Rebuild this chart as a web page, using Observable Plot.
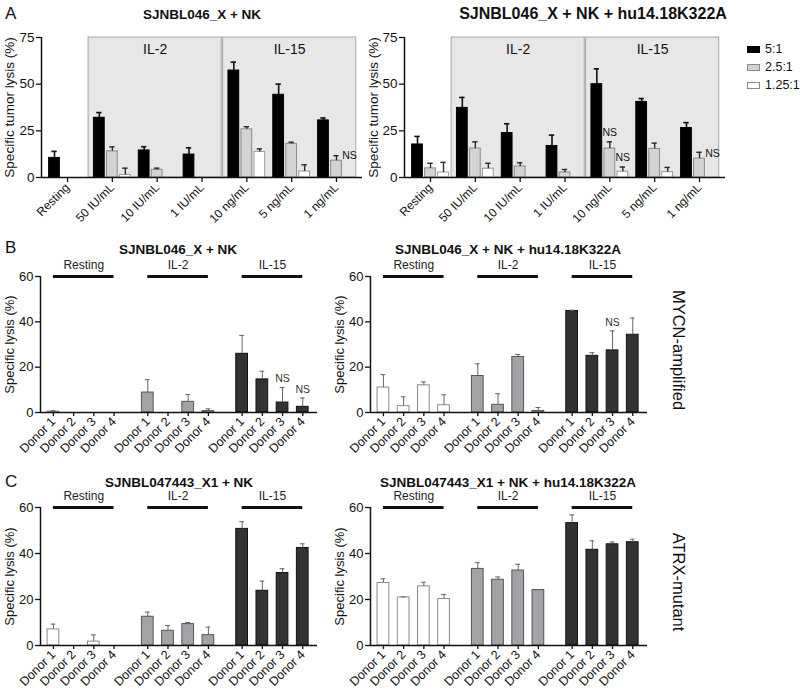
<!DOCTYPE html>
<html><head><meta charset="utf-8">
<script src="https://cdn.jsdelivr.net/npm/d3@7"></script>
<script src="https://cdn.jsdelivr.net/npm/@observablehq/plot@0.6"></script>
<style>
body{margin:0;background:#fff;font-family:"Liberation Sans",Arial,sans-serif;color:#111;}
#root{position:relative;width:800px;height:698px;overflow:hidden;background:#fff;}
.lbl{position:absolute;white-space:nowrap;transform:translate(-50%,-50%);}
.title{font-weight:bold;font-size:13.5px;}
.letter{font-size:17px;transform:translate(0,-50%);}
.side{font-size:16.5px;transform:translate(-50%,-50%) rotate(90deg);}
.leg{position:absolute;font-size:12.5px;display:flex;align-items:center;white-space:nowrap;transform:translate(0,-50%);}
.sw{display:inline-block;width:13px;height:7px;margin-right:5px;box-sizing:border-box;}
</style></head><body><div id="root"></div>
<script>
// ---------- Panel A data ----------
const doseLabels = ["Resting","50 IU/mL","10 IU/mL","1 IU/mL","10 ng/mL","5 ng/mL","1 ng/mL"];
const doseCytokine = [null,"IL-2","IL-2","IL-2","IL-15","IL-15","IL-15"];
const cytokineBoxes = ["IL-2","IL-15"];
const ratios = ["5:1","2.5:1","1.25:1"];
const doseYTicks = [0,25,50,75];

const nkRatio5      = [10.5, 32, 14.5, 12.3, 57.3, 44.3, 30.6];
const nkRatio5Err   = [3.5, 2.8, 2, 3.6, 4.5, 5.7, 1.3];
const nkRatio2_5    = [0, 14, 4.1, 0, 25.8, 18, 9];
const nkRatio2_5Err = [0, 2.4, 0.9, 0, 1.4, 0.9, 2.7];
const nkRatio1_25   = [0, 1.4, 0, 0, 13.7, 3.2, 0];
const nkRatio1_25Err= [0, 3.6, 0, 0, 1.6, 3.6, 0];
const nkNS = [{dose:"1 ng/mL", ratio:"1.25:1", level:11.8}];

const abRatio5      = [17.7, 37.3, 23.8, 16.9, 50, 40.5, 26.5];
const abRatio5Err   = [4.3, 5.6, 5, 5.8, 8.2, 1.8, 2.9];
const abRatio2_5    = [4.9, 15.5, 5.9, 2.7, 15.5, 15.3, 10.1];
const abRatio2_5Err = [2.7, 3.6, 2, 1.6, 3.6, 3.1, 3.4];
const abRatio1_25   = [2.7, 4.7, 0, 0, 3.1, 2.9, 0];
const abRatio1_25Err= [5.4, 2.9, 0, 0, 2.5, 2.5, 0];
const abNS = [{dose:"10 ng/mL", ratio:"2.5:1", level:24}, {dose:"10 ng/mL", ratio:"1.25:1", level:10.7}, {dose:"1 ng/mL", ratio:"1.25:1", level:12.9}];

// ---------- Panels B & C data ----------
const donors = ["Donor 1","Donor 2","Donor 3","Donor 4"];
const conditions = ["Resting","IL-2","IL-15"];
const donorYTicks = [0,20,40,60];

const mycnNkResting = [0.4, 0, 0, 0],        mycnNkRestingErr = [0.4, 0, 0, 0];
const mycnNkIL2     = [8.8, 0, 4.7, 0.6],    mycnNkIL2Err     = [5.7, 0, 3.2, 1.0];
const mycnNkIL15    = [25.9, 14.6, 4.4, 2.5],mycnNkIL15Err    = [8.1, 3.6, 6.6, 3.9];
const mycnNkNS = [{cond:"IL-15", donor:"Donor 3", level:15}, {cond:"IL-15", donor:"Donor 4", level:10.2}];

const mycnAbResting = [11, 2.8, 12, 3.2],    mycnAbRestingErr = [5.7, 4.1, 1.5, 4.6];
const mycnAbIL2     = [16.1, 3.4, 24.5, 0.7],mycnAbIL2Err     = [5.4, 4.9, 1.1, 1.5];
const mycnAbIL15    = [44.8, 25, 27.4, 34.3],mycnAbIL15Err    = [0.3, 1.4, 8.6, 7.4];
const mycnAbNS = [{cond:"IL-15", donor:"Donor 3", level:39.5}];

const atrxNkResting = [7, 0, 1.7, 0],        atrxNkRestingErr = [2.3, 0, 2.9, 0];
const atrxNkIL2     = [12.5, 6.4, 9.3, 4.5], atrxNkIL2Err     = [2, 2.3, 0.7, 3.5];
const atrxNkIL15    = [50.7, 23.8, 31.5, 42.4], atrxNkIL15Err = [3.1, 4.2, 1.9, 1.8];

const atrxAbResting = [27.2, 20.9, 25.7, 20.2], atrxAbRestingErr = [1.8, 0.2, 1.8, 2];
const atrxAbIL2     = [33.3, 28.6, 32.6, 24.1], atrxAbIL2Err     = [2.7, 1.2, 2.7, 0.2];
const atrxAbIL15    = [53.2, 41.6, 44, 44.9],   atrxAbIL15Err    = [3.6, 3.9, 1, 1.3];

const panelTitles = ["SJNBL046_X + NK","SJNBL046_X + NK + hu14.18K322A","SJNBL046_X + NK","SJNBL046_X + NK + hu14.18K322A","SJNBL047443_X1 + NK","SJNBL047443_X1 + NK + hu14.18K322A"];
const panelLetters = ["A","B","C"];
const sideLabels = ["MYCN-amplified","ATRX-mutant"];

// ---------- layout constants ----------
const FONT = "Liberation Sans, Arial, Helvetica, sans-serif";
const RATIO_OFFSET = 0.29, A_BAR_HALF = 0.12, A_CAP_HALF = 0.06;
const DOSE_DOMAIN = [-0.58, 6.58];
const GROUP_STEP = 4.67, D_BAR_HALF = 0.29, D_CAP_HALF = 0.12;
const DONOR_DOMAIN = [-0.64, 13.07];

const root = document.getElementById("root");
function place(node, left, top) {
  node.style.position = "absolute"; node.style.left = left + "px"; node.style.top = top + "px";
  root.appendChild(node);
}
function label(text, cls, x, y, size) {
  const d = document.createElement("div"); d.className = "lbl " + cls; d.textContent = text;
  d.style.left = x + "px"; d.style.top = y + "px";
  if (size) d.style.fontSize = size + "px";
  root.appendChild(d);
}

function dosePanel(vals, errs, nsList, geo) {
  const rows = [];
  ratios.forEach((r, k) => doseLabels.forEach((dose, i) =>
    rows.push({ratio: r, k, dose, i, pos: i + (k - 1) * RATIO_OFFSET, value: vals[k][i], err: errs[k][i]})));
  const boxes = cytokineBoxes.map(name => {
    const idx = doseCytokine.map((c, i) => c === name ? i : -1).filter(i => i >= 0);
    return {name, x1: d3.min(idx) - 0.53, x2: d3.max(idx) + 0.44};
  });
  const ratioStyle = [
    {fill: "#000", stroke: "#000", err: "#111", ew: 1.6},
    {fill: "#d3d3d3", stroke: "#8a8a8a", err: "#2a2a2a", ew: 1.4},
    {fill: "#fff", stroke: "#999", err: "#2a2a2a", ew: 1.4}];
  const posOf = (dose, ratio) => doseLabels.indexOf(dose) + (ratios.indexOf(ratio) - 1) * RATIO_OFFSET;
  const marks = [
    Plot.rect(boxes, {x1: "x1", x2: "x2", y1: 0, y2: 75, fill: "#e7e7e7", stroke: "#a5a5a5", strokeWidth: 1}),
    Plot.text(boxes, {x: d => (d.x1 + d.x2) / 2, y: 75, dy: 12, text: "name", fontSize: 14})
  ];
  ratios.forEach((r, k) => {
    const s = ratioStyle[k];
    const sub = rows.filter(d => d.k === k && d.value > 0);
    marks.push(Plot.rect(sub, {x1: d => d.pos - A_BAR_HALF, x2: d => d.pos + A_BAR_HALF, y1: 0, y2: "value", fill: s.fill, stroke: s.stroke, strokeWidth: 1}));
    const e = sub.filter(d => d.err > 0);
    marks.push(Plot.ruleX(e, {x: "pos", y1: "value", y2: d => d.value + d.err, stroke: s.err, strokeWidth: s.ew}));
    marks.push(Plot.ruleY(e, {y: d => d.value + d.err, x1: d => d.pos - A_CAP_HALF, x2: d => d.pos + A_CAP_HALF, stroke: s.err, strokeWidth: s.ew}));
  });
  marks.push(Plot.text(nsList, {x: d => posOf(d.dose, d.ratio), y: "level", text: d => "NS", fontSize: 10.5}));
  marks.push(Plot.ruleY([0], {strokeWidth: 1.5}));
  marks.push(Plot.ruleX([DOSE_DOMAIN[0]], {strokeWidth: 1.5}));
  const tickMap = new Map(doseLabels.map((l, i) => [i, l]));
  marks.push(Plot.axisX(doseLabels.map((l, i) => i), {tickFormat: d => tickMap.get(d), tickRotate: -45, tickSize: 5, tickPadding: 3, fontSize: 12, label: null, strokeWidth: 1.3}));
  marks.push(Plot.axisY(doseYTicks, {tickSize: 5, tickPadding: 2, fontSize: 13.5, label: "Specific tumor lysis (%)", labelAnchor: "center", labelArrow: "none", labelOffset: geo.marginLeft - 4, strokeWidth: 1.3}));
  return Plot.plot({
    width: geo.width, height: geo.height, marginLeft: geo.marginLeft, marginRight: geo.marginRight, marginTop: geo.marginTop, marginBottom: geo.marginBottom,
    x: {type: "linear", domain: DOSE_DOMAIN},
    y: {domain: [0, 75]},
    style: {background: "none", overflow: "visible", fontFamily: FONT, color: "#111"},
    marks
  });
}

function donorPanel(vals, errs, nsList, geo) {
  const fills = ["#fff", "#a3a3a7", "#333"];
  const strokes = ["#8a8a8a", "#555", "#111"];
  const rows = [];
  conditions.forEach((c, g) => donors.forEach((dn, i) =>
    rows.push({cond: c, g, donor: dn, pos: g * GROUP_STEP + i, value: vals[g][i], err: errs[g][i]})));
  const posOf = (c, dn) => conditions.indexOf(c) * GROUP_STEP + donors.indexOf(dn);
  const marks = [];
  conditions.forEach((c, g) => {
    const sub = rows.filter(d => d.g === g && d.value > 0);
    marks.push(Plot.rect(sub, {x1: d => d.pos - D_BAR_HALF, x2: d => d.pos + D_BAR_HALF, y1: 0, y2: "value", fill: fills[g], stroke: strokes[g], strokeWidth: 1}));
  });
  const e = rows.filter(d => d.value > 0 && d.err > 0);
  marks.push(Plot.ruleX(e, {x: "pos", y1: "value", y2: d => d.value + d.err, stroke: "#666", strokeWidth: 1}));
  marks.push(Plot.ruleY(e, {y: d => d.value + d.err, x1: d => d.pos - D_CAP_HALF, x2: d => d.pos + D_CAP_HALF, stroke: "#666", strokeWidth: 1}));
  marks.push(Plot.text(nsList, {x: d => posOf(d.cond, d.donor), y: "level", text: d => "NS", fontSize: 10.5, fill: "#333"}));
  marks.push(Plot.ruleY(conditions, {y: 60, x1: (c, g) => g * GROUP_STEP, x2: (c, g) => g * GROUP_STEP + donors.length - 1, strokeWidth: 3}));
  marks.push(Plot.text(conditions, {x: (c, g) => g * GROUP_STEP + (donors.length - 1) / 2, y: 60, dy: -11, text: d => d, fontSize: 12, fill: "#222"}));
  marks.push(Plot.ruleY([0], {strokeWidth: 1.5}));
  marks.push(Plot.ruleX([DONOR_DOMAIN[0]], {strokeWidth: 1.5}));
  const tickMap = new Map(rows.map(d => [d.pos, d.donor]));
  marks.push(Plot.axisX(rows.map(d => d.pos), {tickFormat: d => tickMap.get(d), tickRotate: -45, tickSize: 4, tickPadding: 3, fontSize: 12.5, label: null, strokeWidth: 1.3}));
  marks.push(Plot.axisY(donorYTicks, {tickSize: 5, tickPadding: 2, fontSize: 13, label: "Specific lysis (%)", labelAnchor: "center", labelArrow: "none", labelOffset: geo.marginLeft - 4, strokeWidth: 1.3}));
  return Plot.plot({
    width: geo.width, height: geo.height, marginLeft: geo.marginLeft, marginRight: geo.marginRight, marginTop: geo.marginTop, marginBottom: geo.marginBottom,
    x: {type: "linear", domain: DONOR_DOMAIN},
    y: {domain: [0, 60]},
    style: {background: "none", overflow: "visible", fontFamily: FONT, color: "#111"},
    marks
  });
}

// ---------- Panel A ----------
place(dosePanel([nkRatio5, nkRatio2_5, nkRatio1_25], [nkRatio5Err, nkRatio2_5Err, nkRatio1_25Err], nkNS,
  {width: 380, height: 235, marginLeft: 41, marginRight: 18, marginTop: 37, marginBottom: 58}), 0, 0);
place(dosePanel([abRatio5, abRatio2_5, abRatio1_25], [abRatio5Err, abRatio2_5Err, abRatio1_25Err], abNS,
  {width: 380, height: 235, marginLeft: 40, marginRight: 19, marginTop: 37, marginBottom: 58}), 364, 0);

// ---------- Panel B ----------
place(donorPanel([mycnNkResting, mycnNkIL2, mycnNkIL15], [mycnNkRestingErr, mycnNkIL2Err, mycnNkIL15Err], mycnNkNS,
  {width: 360, height: 258, marginLeft: 40, marginRight: 43, marginTop: 46, marginBottom: 76}), 0, 230);
place(donorPanel([mycnAbResting, mycnAbIL2, mycnAbIL15], [mycnAbRestingErr, mycnAbIL2Err, mycnAbIL15Err], mycnAbNS,
  {width: 340, height: 258, marginLeft: 40, marginRight: 23, marginTop: 46, marginBottom: 76}), 330, 230);

// ---------- Panel C ----------
place(donorPanel([atrxNkResting, atrxNkIL2, atrxNkIL15], [atrxNkRestingErr, atrxNkIL2Err, atrxNkIL15Err], [],
  {width: 360, height: 238, marginLeft: 40, marginRight: 43, marginTop: 47, marginBottom: 53}), 0, 460);
place(donorPanel([atrxAbResting, atrxAbIL2, atrxAbIL15], [atrxAbRestingErr, atrxAbIL2Err, atrxAbIL15Err], [],
  {width: 340, height: 238, marginLeft: 40, marginRight: 23, marginTop: 47, marginBottom: 53}), 330, 460);

// ---------- titles & labels ----------
const titlePos = [[202, 14], [593, 14], [178, 249], [508, 249], [179, 482], [508, 482]];
const titleSize = [13.5, 16, 13.5, 13.5, 13.5, 13.5];
panelTitles.forEach((t, i) => label(t, "title", titlePos[i][0], titlePos[i][1], titleSize[i]));
const letterPos = [[5, 14], [5, 248], [5, 482]];
panelLetters.forEach((t, i) => label(t, "letter", letterPos[i][0], letterPos[i][1]));
const sidePos = [[678, 350], [678, 582]];
sideLabels.forEach((t, i) => label(t, "side", sidePos[i][0], sidePos[i][1]));

// legend
const legendStyle = [{bg: "#000", bd: "#000"}, {bg: "#d3d3d3", bd: "#8a8a8a"}, {bg: "#fff", bd: "#8a8a8a"}];
const legendY = [49, 67, 85];
ratios.forEach((r, k) => {
  const row = document.createElement("div"); row.className = "leg";
  const sw = document.createElement("span"); sw.className = "sw";
  sw.style.background = legendStyle[k].bg; sw.style.border = "1px solid " + legendStyle[k].bd;
  row.appendChild(sw); row.appendChild(document.createTextNode(r));
  row.style.left = "747px"; row.style.top = legendY[k] + "px";
  root.appendChild(row);
});
</script></body></html>
